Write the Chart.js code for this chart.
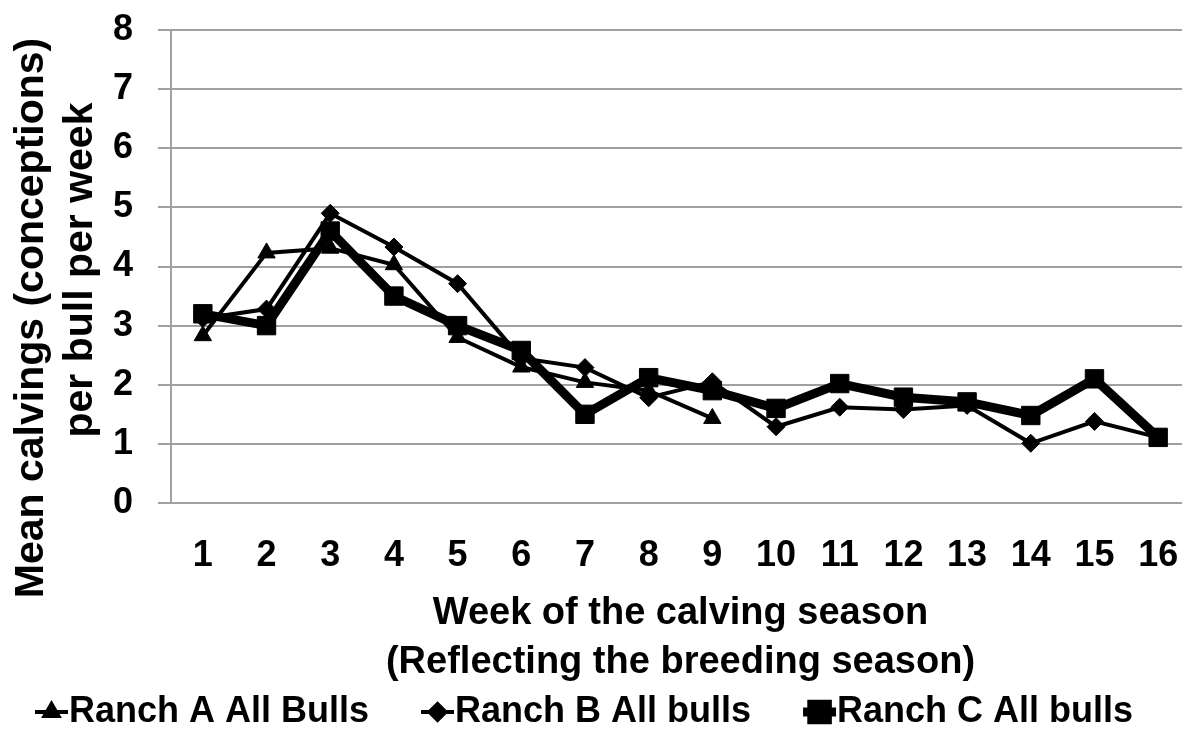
<!DOCTYPE html>
<html>
<head>
<meta charset="utf-8">
<script src="https://cdn.jsdelivr.net/npm/chart.js@4.4.0/dist/chart.umd.min.js"></script>
<style>
  html, body { margin: 0; padding: 0; background: #ffffff; overflow: hidden; }
  #wrap { position: relative; width: 1190px; height: 742px; }
  #c { display: block; }
</style>
</head>
<body>
<div id="wrap"><canvas id="c" width="1190" height="742"></canvas></div>
<script>
const weeks = ['1','2','3','4','5','6','7','8','9','10','11','12','13','14','15','16'];
const ranchA = [2.83, 4.23, 4.31, 4.03, 2.80, 2.30, 2.04, 1.90, 1.43, null, null, null, null, null, null, null];
const ranchB = [3.12, 3.28, 4.90, 4.33, 3.71, 2.45, 2.29, 1.78, 2.05, 1.29, 1.62, 1.58, 1.65, 1.01, 1.38, 1.11];
const ranchC = [3.20, 3.00, 4.60, 3.50, 3.00, 2.58, 1.50, 2.12, 1.90, 1.60, 2.02, 1.79, 1.71, 1.48, 2.10, 1.11];
const seriesLabels = ['Ranch A All Bulls', 'Ranch B All bulls', 'Ranch C All bulls'];
const yTitleLines = ['Mean calvings (conceptions)', 'per bull per week'];
const xTitleLines = ['Week of the calving season', '(Reflecting the breeding season)'];

const FONT = '"Liberation Sans", Arial, Helvetica, sans-serif';
const GRID = '#a0a0a0';
const TARGET_RIGHT = 1190;

const titlesAndLegend = {
  id: 'titlesAndLegend',
  afterDraw(chart) {
    const ctx = chart.ctx;
    const area = chart.chartArea;
    ctx.save();
    ctx.fillStyle = '#000';
    ctx.font = 'bold 41px ' + FONT;
    ctx.textAlign = 'center';
    ctx.textBaseline = 'alphabetic';
    const yPos = [[43, 318], [92, 270]];
    yTitleLines.forEach((t, i) => {
      ctx.save();
      ctx.translate(yPos[i][0], yPos[i][1]);
      ctx.rotate(-Math.PI / 2);
      ctx.fillText(t, 0, 0);
      ctx.restore();
    });
    ctx.font = 'bold 38px ' + FONT;
    const cx = (area.left + area.right) / 2;
    ctx.fillText(xTitleLines[0], cx, 624);
    ctx.fillText(xTitleLines[1], cx, 673);
    ctx.font = 'bold 36px ' + FONT;
    ctx.textAlign = 'left';
    ctx.textBaseline = 'middle';
    const ly = 712;
    let x = 35;
    chart.data.datasets.forEach((ds) => {
      ctx.strokeStyle = '#000';
      ctx.lineWidth = ds.legendLineWidth;
      ctx.beginPath();
      ctx.moveTo(x, ly);
      ctx.lineTo(x + 33, ly);
      ctx.stroke();
      ctx.fillStyle = '#000';
      Chart.helpers.drawPoint(ctx, {
        pointStyle: ds.pointStyle, rotation: 0, borderWidth: 1,
        radius: ds.legendRadius
      }, x + 16.5, ly);
      ctx.fill();
      ctx.fillStyle = '#000';
      ctx.fillText(ds.label, x + 34, ly);
      x += 34 + ctx.measureText(ds.label).width + 52;
    });
    ctx.restore();
  }
};

const chart = new Chart(document.getElementById('c'), {
  type: 'line',
  data: {
    labels: weeks,
    datasets: [
      { label: seriesLabels[0], data: ranchA, borderColor: '#000', backgroundColor: '#000',
        borderWidth: 4, pointStyle: 'triangle', pointRadius: 10, pointBorderWidth: 1,
        pointBackgroundColor: '#000', pointBorderColor: '#000', tension: 0, order: 2,
        legendLineWidth: 4, legendRadius: 8 },
      { label: seriesLabels[1], data: ranchB, borderColor: '#000', backgroundColor: '#000',
        borderWidth: 4, pointStyle: 'rectRot', pointRadius: 9, pointBorderWidth: 1,
        pointBackgroundColor: '#000', pointBorderColor: '#000', tension: 0, order: 1,
        legendLineWidth: 4, legendRadius: 8 },
      { label: seriesLabels[2], data: ranchC, borderColor: '#000', backgroundColor: '#000',
        borderWidth: 9, pointStyle: 'rect', pointRadius: 13, pointBorderWidth: 1,
        pointBackgroundColor: '#000', pointBorderColor: '#000', tension: 0, order: 0,
        legendLineWidth: 9, legendRadius: 11 }
    ]
  },
  options: {
    responsive: false,
    maintainAspectRatio: false,
    devicePixelRatio: 1,
    animation: false,
    layout: { autoPadding: false, padding: { top: 30, left: 0, right: 0, bottom: 0 } },
    plugins: {
      legend: { display: false },
      title: { display: false },
      tooltip: { enabled: false }
    },
    scales: {
      x: {
        offset: true,
        grid: { display: false },
        border: { display: true, color: GRID, width: 2 },
        ticks: { color: '#000', font: { family: FONT, size: 36, weight: 'bold' }, padding: 23, maxRotation: 0, autoSkip: false },
        afterFit(scale) { scale.height = 239; scale.paddingLeft = 0; scale.paddingRight = 0; }
      },
      y: {
        min: 0, max: 8,
        grid: { color: GRID, lineWidth: 2, drawTicks: true, tickLength: 13 },
        border: { display: true, color: GRID, width: 2 },
        ticks: { stepSize: 1, color: '#000', font: { family: FONT, size: 36, weight: 'bold' }, padding: 25 },
        afterFit(scale) { scale.width = 171; scale.paddingTop = 0; scale.paddingBottom = 0; }
      }
    }
  },
  plugins: [titlesAndLegend]
});

// Make the plot area reach the intended right edge (it runs off the page as in the original)
const diff = chart.chartArea.right - TARGET_RIGHT;
if (Math.abs(diff) > 0.5) {
  chart.options.layout.padding.right = diff;
  chart.update();
}
</script>
</body>
</html>
